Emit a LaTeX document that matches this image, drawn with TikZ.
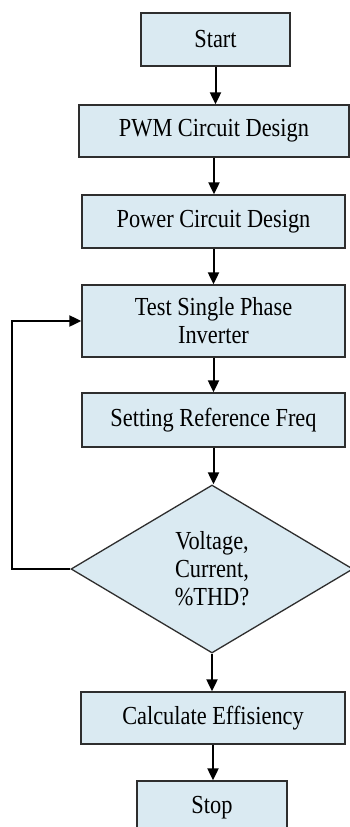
\documentclass[tikz,border=0pt]{standalone}
\usepackage{fontspec}
\setmainfont{Liberation Serif}[FakeStretch=0.86]
\usetikzlibrary{arrows.meta,shapes.geometric}
\definecolor{boxfill}{HTML}{DAEAF2}
\definecolor{boxline}{HTML}{2E2E2E}
\tikzset{
  stepbox/.style={draw=boxline, line width=1.3pt, fill=boxfill, rectangle, inner sep=0pt,
    align=center, font=\fontsize{26}{28}\selectfont},
  decbox/.style={draw=boxline, line width=1.3pt, fill=boxfill, diamond, inner sep=0pt,
    align=center, font=\fontsize{26}{28}\selectfont},
  flow/.style={line width=2pt, -{Triangle[length=12pt,width=11pt]}},
}
\begin{document}
\begin{tikzpicture}[x=1pt,y=-1pt]
\clip (0,0) rectangle (350,827);
\fill[white] (0,0) rectangle (350,827);
\node[stepbox, minimum width=149pt, minimum height=53pt] (start) at (215.5,39.5) {Start};
\node[stepbox, minimum width=270pt, minimum height=52pt] (pwm) at (214,131) {PWM Circuit Design};
\node[stepbox, minimum width=263pt, minimum height=53pt] (power) at (213.5,221.5) {Power Circuit Design};
\node[stepbox, minimum width=263pt, minimum height=72pt] (test) at (213.5,321) {Test Single Phase\\Inverter};
\node[stepbox, minimum width=263pt, minimum height=54pt] (set) at (213.5,420) {Setting Reference Freq};
\node[decbox, minimum width=282pt, minimum height=168pt, aspect=1.68] (dec) at (212,569) {Voltage,\\Current,\\\%THD?};
\node[stepbox, minimum width=264pt, minimum height=52pt] (calc) at (213,718) {Calculate Effisiency};
\node[stepbox, minimum width=150pt, minimum height=53pt] (stop) at (212,807.5) {Stop};
\coordinate (loopA) at (12,569);
\coordinate (loopB) at (12,321);
\draw[flow] (start.south) -- (start.south |- pwm.north);
\draw[flow] (pwm.south) -- (pwm.south |- power.north);
\draw[flow] (power.south) -- (power.south |- test.north);
\draw[flow] (test.south) -- (test.south |- set.north);
\draw[flow] (set.south) -- (set.south |- dec.north);
\draw[flow] (dec.south) -- (dec.south |- calc.north);
\draw[flow] (calc.south) -- (calc.south |- stop.north);
\draw[flow] (dec.west) -- (loopA) -- (loopB) -- (test.west);
\end{tikzpicture}
\end{document}
